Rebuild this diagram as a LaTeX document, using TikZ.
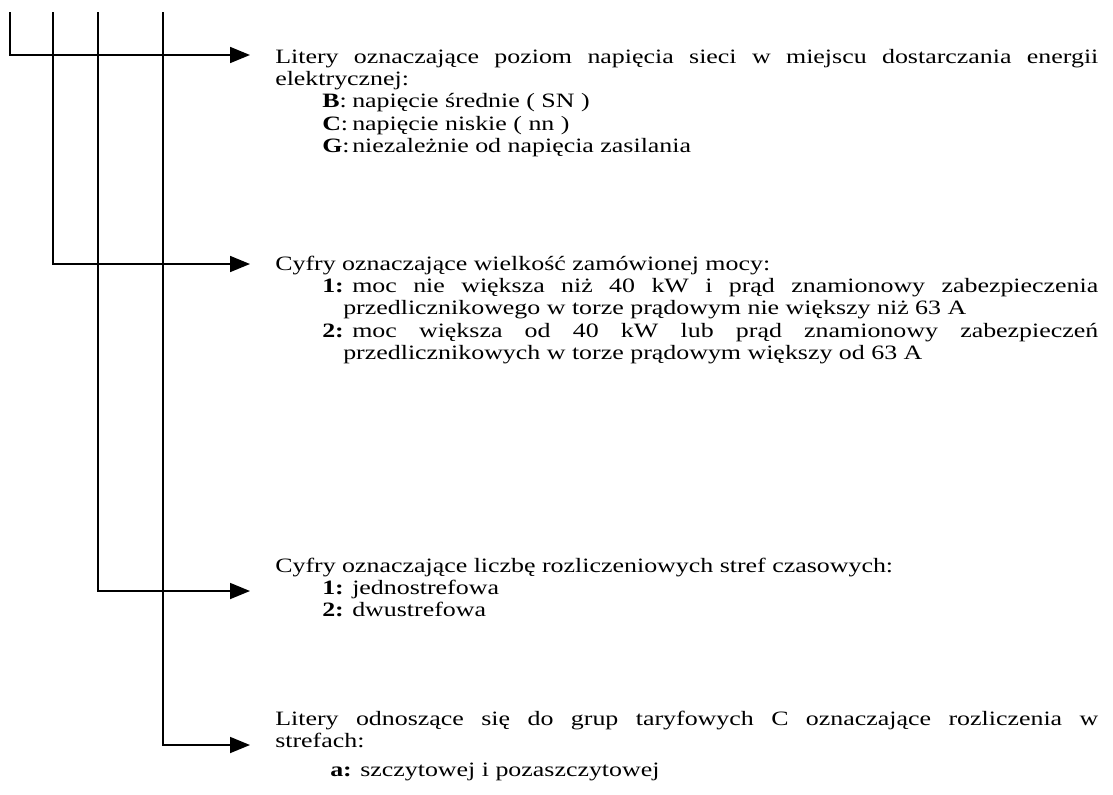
\documentclass[tikz,border=0pt]{standalone}
\usepackage{fontspec}
\setmainfont{Liberation Serif}[FakeStretch=1.27]
\usepackage{tikz}
\usetikzlibrary{calc}
\usetikzlibrary{arrows.meta}
\newlength{\pkt}
\setlength{\pkt}{0.75pt}
\newcommand{\bezprzenoszenia}{\hyphenpenalty=10000 \exhyphenpenalty=10000 \tolerance=9999\relax}
\newcommand{\punkt}[3][-21]{{\leftskip=68\pkt\noindent\hspace*{#1\pkt}\makebox[30\pkt][l]{#2}#3\par}}
\tikzset{
  strz/.style={line width=1.3pt, -{Triangle[length=15pt,width=12pt]}},
  opis/.style={anchor=base west, inner sep=0pt, text width=823\pkt, align=justify,
    font=\fontsize{15.3pt}{16.8pt}\selectfont}
}
\begin{document}
\begin{tikzpicture}[x=0.75pt, y=-0.75pt]
  \useasboundingbox (0,0) rectangle (1113,794);
  \coordinate (g1) at (10,12); \coordinate (k1) at (250,55);   % napiecie
  \coordinate (g2) at (53,12); \coordinate (k2) at (250,264);  % moc
  \coordinate (g3) at (98,12); \coordinate (k3) at (250,591);  % strefy
  \coordinate (g4) at (163,12); \coordinate (k4) at (250,745); % rozliczenia
  \draw [strz] (g1) |- (k1);
  \draw [strz] (g2) |- (k2);
  \draw [strz] (g3) |- (k3);
  \draw [strz] (g4) |- (k4);
  \node [opis] (napiecie) at (275,63) {\bezprzenoszenia Litery oznaczające poziom napięcia sieci w miejscu dostarczania energii\linebreak elektrycznej:\par
    \punkt{\textbf{B}:}{napięcie średnie ( SN )}
    \punkt{\textbf{C}:}{napięcie niskie ( nn )}
    \punkt{\textbf{G}:}{niezależnie od napięcia zasilania}};
  \node [opis] (moc) at (275,270) {\bezprzenoszenia Cyfry oznaczające wielkość zamówionej mocy:\par
    \punkt{\textbf{1:}}{moc nie większa niż 40 kW i prąd znamionowy zabezpieczenia\linebreak przedlicznikowego w torze prądowym nie większy niż 63~A}
    \punkt{\textbf{2:}}{moc większa od 40~kW lub prąd znamionowy zabezpieczeń\linebreak przedlicznikowych w torze prądowym większy od 63~A}};
  \node [opis] (strefy) at (275,572) {\bezprzenoszenia Cyfry oznaczające liczbę rozliczeniowych stref czasowych:\par
    \punkt{\textbf{1:}}{jednostrefowa}
    \punkt{\textbf{2:}}{dwustrefowa}};
  \node [opis] (rozlicz) at (275,725) {\bezprzenoszenia Litery odnoszące się do grup taryfowych C oznaczające rozliczenia w\linebreak strefach:\par\vspace{7\pkt}
    \punkt[-13]{\textbf{a:}}{szczytowej i pozaszczytowej}};
\end{tikzpicture}
\end{document}
